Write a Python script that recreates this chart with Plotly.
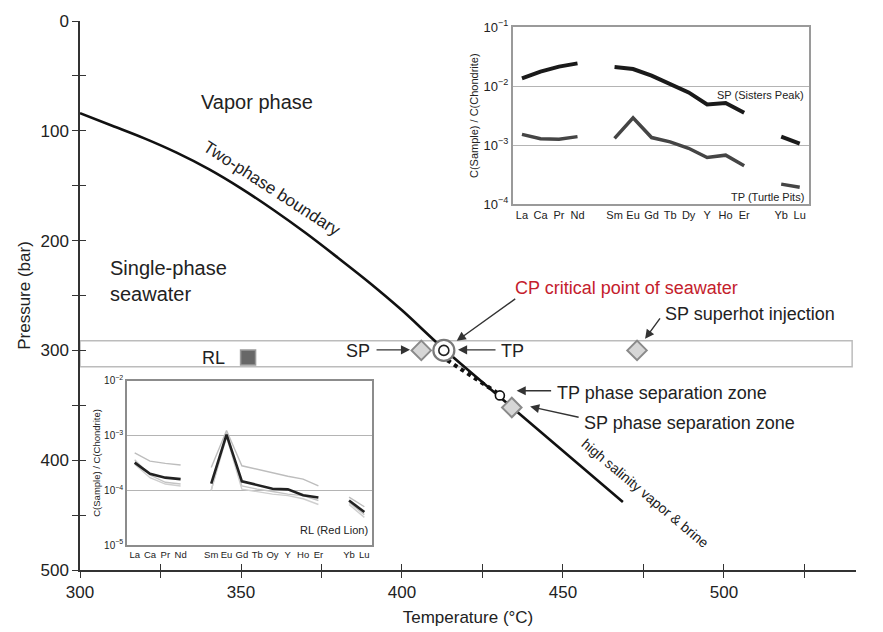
import plotly.graph_objects as go

FONT = "Liberation Sans, Arial, Helvetica, sans-serif"

# ---- Seawater phase diagram -------------------------------------------------
# Two-phase boundary (temperature in deg C, pressure in bar)
boundary_t = [300, 310, 320, 330, 340, 350, 360, 370, 380, 390, 400, 413, 434, 468.6]
boundary_p = [84, 95.4, 106.9, 119.9, 134.9, 152.4, 171.9, 192.9, 215.4, 238.6, 263.5, 298.8, 351.5, 438]

# Dotted extension from the critical point to the TP separation zone
dotted_t = [412, 429.5]
dotted_p = [305, 338.5]

# Site markers
sp_vent_t, sp_vent_p = [406], [300]
cp_t, cp_p = [413], [300]
superhot_t, superhot_p = [473], [300]
tp_sep_t, tp_sep_p = [430.4], [341]
sp_sep_t, sp_sep_p = [434.1], [352]
rl_t, rl_p = [352.2], [306.5]

# Hydrothermal pressure band around 300 bar
band_t = [300, 539.8]
band_p = [291.3, 314.9]

# ---- REE patterns (chondrite normalised) -----------------------------------
ree_top = ["La", "Ca", "Pr", "Nd", "", "Sm", "Eu", "Gd", "Tb", "Dy", "Y", "Ho", "Er", "", "Yb", "Lu"]
sp_ree = [0.0136, 0.0176, 0.0214, 0.0243, None, 0.021, 0.0195, 0.0151, 0.0108, 0.00784, 0.0049,
          0.0052, 0.00354, None, 0.0014, 0.00107]
tp_ree = [0.00153, 0.00129, 0.00126, 0.0014, None, 0.00131, 0.00291, 0.00135, 0.00114, 0.00089,
          0.00062, 0.00068, 0.00045, None, 0.00022, 0.000195]

ree_bottom = ["La", "Ca", "Pr", "Nd", "", "Sm", "Eu", "Gd", "Tb", "Oy", "Y", "Ho", "Er", "", "Yb", "Lu"]
rl_main = [3.2e-4, 2.0e-4, 1.7e-4, 1.6e-4, None, 1.32e-4, 1.04e-3, 1.46e-4, 1.23e-4, 1.07e-4,
           1.04e-4, 8.1e-5, 7.4e-5, None, 6.5e-5, 4.0e-5]
rl_gray1 = [4.8e-4, 3.4e-4, 3.1e-4, 2.9e-4, None, 2.6e-4, 1.23e-3, 2.8e-4, 2.4e-4, 2.05e-4,
            1.8e-4, 1.6e-4, 1.2e-4, None, 7.5e-5, 5.0e-5]
rl_gray2 = [3.6e-4, 1.9e-4, 1.4e-4, 1.3e-4, None, 1.0e-4, 1.1e-3, 1.2e-4, 1.05e-4, 9.5e-5,
            8.5e-5, 8.0e-5, 6.5e-5, None, 6.0e-5, 3.6e-5]
rl_gray3 = [3.0e-4, 1.7e-4, 1.3e-4, 1.2e-4, None, 1.0e-4, 9.5e-4, 1.05e-4, 9.5e-5, 8.5e-5,
            8.0e-5, 7.0e-5, 5.5e-5, None, 5.5e-5, 3.2e-5]

log_ticks_top = [1e-4, 1e-3, 1e-2, 1e-1]
log_text_top = ["10<sup>\u22124</sup>", "10<sup>\u22123</sup>", "10<sup>\u22122</sup>", "10<sup>\u22121</sup>"]
log_ticks_bottom = [1e-5, 1e-4, 1e-3, 1e-2]
log_text_bottom = ["10<sup>\u22125</sup>", "10<sup>\u22124</sup>", "10<sup>\u22123</sup>", "10<sup>\u22122</sup>"]

temp_ticks = [300, 350, 400, 450, 500]
pres_ticks = [0, 100, 200, 300, 400, 500]

fig = go.Figure()

# Phase boundary and dotted extension
fig.add_trace(go.Scatter(x=boundary_t, y=boundary_p, mode="lines",
                         line=dict(color="#111", width=2.6, shape="spline", smoothing=1.0),
                         hoverinfo="skip"))
fig.add_trace(go.Scatter(x=dotted_t, y=dotted_p, mode="lines",
                         line=dict(color="#111", width=4, dash="dot"), hoverinfo="skip"))

# Diamonds: SP vent, superhot injection, SP phase separation
diamond = dict(symbol="diamond", size=15, color="#d6d6d6", line=dict(color="#8a8a8a", width=2))
for t, p in [(sp_vent_t, sp_vent_p), (superhot_t, superhot_p), (sp_sep_t, sp_sep_p)]:
    fig.add_trace(go.Scatter(x=t, y=p, mode="markers", marker=diamond, hoverinfo="skip"))

# Critical point (double ring)
fig.add_trace(go.Scatter(x=cp_t, y=cp_p, mode="markers",
                         marker=dict(symbol="circle", size=21, color="white",
                                     line=dict(color="#7a7a7a", width=2.2)), hoverinfo="skip"))
fig.add_trace(go.Scatter(x=cp_t, y=cp_p, mode="markers",
                         marker=dict(symbol="circle", size=10, color="white",
                                     line=dict(color="#222", width=1.6)), hoverinfo="skip"))
# TP phase separation zone
fig.add_trace(go.Scatter(x=tp_sep_t, y=tp_sep_p, mode="markers",
                         marker=dict(symbol="circle", size=9, color="white",
                                     line=dict(color="#111", width=1.6)), hoverinfo="skip"))
# Red Lion
fig.add_trace(go.Scatter(x=rl_t, y=rl_p, mode="markers",
                         marker=dict(symbol="square", size=15, color="#676767",
                                     line=dict(color="#9a9a9a", width=1.5)), hoverinfo="skip"))

# Top-right inset: Sisters Peak / Turtle Pits
x_top = list(range(len(ree_top)))
fig.add_trace(go.Scatter(x=x_top, y=sp_ree, mode="lines", xaxis="x2", yaxis="y2",
                         line=dict(color="#1a1a1a", width=4), connectgaps=False, hoverinfo="skip"))
fig.add_trace(go.Scatter(x=x_top, y=tp_ree, mode="lines", xaxis="x2", yaxis="y2",
                         line=dict(color="#454545", width=3.5), connectgaps=False, hoverinfo="skip"))

# Bottom-left inset: Red Lion
x_bot = list(range(len(ree_bottom)))
for series, col in [(rl_gray1, "#bdbdbd"), (rl_gray2, "#c4c4c4"), (rl_gray3, "#cfcfcf")]:
    fig.add_trace(go.Scatter(x=x_bot, y=series, mode="lines", xaxis="x3", yaxis="y3",
                             line=dict(color=col, width=1.4), connectgaps=False, hoverinfo="skip"))
fig.add_trace(go.Scatter(x=x_bot, y=rl_main, mode="lines", xaxis="x3", yaxis="y3",
                         line=dict(color="#222", width=2.6), connectgaps=False, hoverinfo="skip"))

# Helper trace for inside tick marks
fig.add_trace(go.Scatter(x=[None], y=[None], xaxis="x4", yaxis="y4", hoverinfo="skip"))

# Pressure band
fig.add_shape(type="rect", xref="x", yref="y", x0=band_t[0], x1=band_t[1], y0=band_p[0], y1=band_p[1],
              line=dict(color="#bcbcbc", width=1.5), fillcolor="rgba(0,0,0,0)", layer="below")

axis_col = "#333"
tick_common = dict(tickcolor=axis_col, tickwidth=1.4, ticklen=6)

fig.update_layout(
    width=883, height=632,
    margin=dict(l=80, r=27, t=19, b=62),
    paper_bgcolor="white", plot_bgcolor="white",
    showlegend=False,
    font=dict(family=FONT, color="#222"),
    xaxis=dict(domain=[0, 1], range=[300, 541], showgrid=False, zeroline=False,
               showline=True, linecolor=axis_col, linewidth=1.5,
               tickvals=temp_ticks, ticks="outside", **tick_common,
               minor=dict(tick0=300, dtick=25, ticks="outside", ticklen=6, tickwidth=1.4, tickcolor=axis_col),
               tickfont=dict(size=17), automargin=False,
               title=dict(text="Temperature (\u00b0C)", font=dict(size=17), standoff=10)),
    yaxis=dict(domain=[0, 1], range=[500, 0], showgrid=False, zeroline=False,
               showline=True, linecolor=axis_col, linewidth=1.5,
               tickvals=pres_ticks, ticks="outside", **tick_common,
               minor=dict(tick0=0, dtick=50, ticks="outside", ticklen=6, tickwidth=1.4, tickcolor=axis_col),
               tickfont=dict(size=17), automargin=False,
               title=dict(text="Pressure (bar)", font=dict(size=17), standoff=6)),
    xaxis4=dict(overlaying="x", anchor="y", side="bottom", range=[300, 541], showgrid=False,
                zeroline=False, showline=False, showticklabels=False,
                tickvals=temp_ticks, ticks="inside", **tick_common,
                minor=dict(tick0=300, dtick=25, ticks="inside", ticklen=6, tickwidth=1.4, tickcolor=axis_col)),
    yaxis4=dict(overlaying="y", anchor="x", side="left", range=[500, 0], showgrid=False,
                zeroline=False, showline=False, showticklabels=False,
                tickvals=pres_ticks, ticks="inside", **tick_common,
                minor=dict(tick0=0, dtick=50, ticks="inside", ticklen=6, tickwidth=1.4, tickcolor=axis_col)),
    # top-right inset
    xaxis2=dict(domain=[0.5576, 0.9394], anchor="y2", range=[-0.5, 15.5], showgrid=False, zeroline=False,
                showline=True, mirror=True, linecolor="#9a9a9a", linewidth=1.5, tickangle=0,
                tickvals=x_top, ticktext=ree_top, ticks="", tickfont=dict(size=11, color="#222")),
    yaxis2=dict(domain=[0.666, 0.989], anchor="x2", type="log", range=[-4, -1],
                showgrid=True, gridcolor="#b4b4b4", gridwidth=1.3, zeroline=False,
                showline=True, mirror=True, linecolor="#9a9a9a", linewidth=1.5,
                tickvals=log_ticks_top, ticktext=log_text_top, ticks="",
                tickfont=dict(size=13, color="#222"),
                title=dict(text="C(Sample) / C(Chondrite)", font=dict(size=11), standoff=3)),
    # bottom-left inset
    xaxis3=dict(domain=[0.0606, 0.3763], anchor="y3", range=[-0.5, 15.5], showgrid=False, zeroline=False,
                showline=True, mirror=True, linecolor="#8c8c8c", linewidth=1.6, tickangle=0,
                tickvals=x_bot, ticktext=ree_bottom, ticks="", tickfont=dict(size=9.5, color="#222")),
    yaxis3=dict(domain=[0.0454, 0.3448], anchor="x3", type="log", range=[-5, -2],
                showgrid=True, gridcolor="#b4b4b4", gridwidth=1.3, zeroline=False,
                showline=True, mirror=True, linecolor="#8c8c8c", linewidth=1.6,
                tickvals=log_ticks_bottom, ticktext=log_text_bottom, ticks="",
                tickfont=dict(size=10, color="#222"),
                title=dict(text="C(Sample) / C(Chondrite)", font=dict(size=9.5), standoff=2)),
)

ann = []


def label(text, x, y, size=18, color="#222", xanchor="center", angle=0, align="center", xref="x", yref="y"):
    ann.append(dict(text=text, x=x, y=y, xref=xref, yref=yref, showarrow=False,
                    font=dict(size=size, color=color, family=FONT), xanchor=xanchor,
                    yanchor="middle", textangle=angle, align=align))


def arrow(x, y, ax, ay):
    ann.append(dict(text="", x=x, y=y, xref="x", yref="y", ax=ax, ay=ay, showarrow=True,
                    arrowhead=2, arrowsize=1.3, arrowwidth=1.4, arrowcolor="#333", standoff=0))


label("Vapor phase", 355, 73.5, size=20)
label("Single-phase<br>seawater", 308.7, 237, size=20, xanchor="left", align="left")
label("Two-phase boundary", 359.5, 153, size=17, angle=33)
label("high salinity vapor &amp; brine", 475.5, 430, size=14, angle=40)
label("CP critical point of seawater", 469.8, 242.9, size=18, color="#c4202c")
label("SP superhot injection", 481.1, 267, size=18, xanchor="left")
label("SP", 386.3, 300.3, size=18)
label("TP", 434.3, 300.3, size=18)
label("TP phase separation zone", 447.5, 339, size=18, xanchor="left")
label("SP phase separation zone", 455.8, 366.3, size=18, xanchor="left")
label("RL", 341.6, 306.7, size=18)

arrow(417.0, 291.3, 60, -43)
arrow(402.5, 299.5, -35, 0)
arrow(417.4, 299.5, 39, 0)
arrow(475.5, 289.5, 16, -22)
arrow(435.6, 336.7, 36, 0)
arrow(439.8, 351.2, 50, 11)

label("SP (Sisters Peak)", 0.99, 0.617, size=11, xanchor="right", xref="x2 domain", yref="y2 domain")
label("TP (Turtle Pits)", 0.99, 0.04, size=11, xanchor="right", xref="x2 domain", yref="y2 domain")
label("RL (Red Lion)", 0.99, 0.09, size=11, xanchor="right", xref="x3 domain", yref="y3 domain")

fig.update_layout(annotations=ann)

fig.write_html("out.html")
